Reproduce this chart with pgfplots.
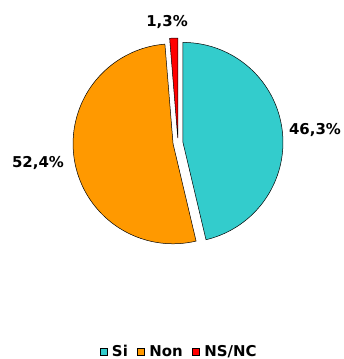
\documentclass[border=0pt]{standalone}
\usepackage{fontspec}
\setmainfont{DejaVu Sans}
\usepackage{pgfplots}
\pgfplotsset{compat=1.18}
\definecolor{cSi}{RGB}{51,204,204}
\definecolor{cNon}{RGB}{255,153,0}
\definecolor{cNS}{RGB}{255,0,0}
\begin{document}
\begin{tikzpicture}
\useasboundingbox (0,0) rectangle (344bp,359bp);
% data (percent)
\def\pSi{46.3}\def\pNon{52.4}\def\pNS{1.3}
\pgfmathsetmacro\aA{90}
\pgfmathsetmacro\aB{90-3.6*\pSi}
\pgfmathsetmacro\aC{\aB-3.6*\pNon}
\pgfmathsetmacro\aD{\aC-3.6*\pNS}
\def\cx{178}\def\cy{216}\def\R{100}\def\ex{5}
\pgfmathsetmacro\oxA{\cx+\ex*cos((\aA+\aB)/2)}\pgfmathsetmacro\oyA{\cy+\ex*sin((\aA+\aB)/2)}
\pgfmathsetmacro\oxB{\cx+\ex*cos((\aB+\aC)/2)}\pgfmathsetmacro\oyB{\cy+\ex*sin((\aB+\aC)/2)}
\pgfmathsetmacro\oxC{\cx+\ex*cos((\aC+\aD)/2)}\pgfmathsetmacro\oyC{\cy+\ex*sin((\aC+\aD)/2)}
\begin{axis}[at={(0,0)}, anchor=origin, x=1bp, y=1bp,
  xmin=0, xmax=344, ymin=0, ymax=359, hide axis, clip=false,
  legend columns=3,
  legend style={draw=none, fill=none, at={(179/344,7/359)}, anchor=center,
    font=\fontsize{15}{18}\selectfont\bfseries,
    /tikz/every odd column/.append style={column sep=3bp},
    /tikz/every even column/.append style={column sep=8bp},
    inner sep=0pt, nodes={inner sep=1.5bp}},
  legend image code/.code={\draw[#1, draw=black, line width=0.5pt] (0bp,-3.5bp) rectangle (7bp,3.5bp);},
]
\addplot[fill=cSi, draw=black, line width=0.5pt, domain=\aB:\aA, samples=100, variable=\t]
  ({\oxA+\R*cos(t)},{\oyA+\R*sin(t)}) -- (axis cs:\oxA,\oyA) -- cycle;
\addlegendentry{Si}
\addplot[fill=cNon, draw=black, line width=0.5pt, domain=\aC:\aB, samples=100, variable=\t]
  ({\oxB+\R*cos(t)},{\oyB+\R*sin(t)}) -- (axis cs:\oxB,\oyB) -- cycle;
\addlegendentry{Non}
\addplot[fill=cNS, draw=black, line width=0.5pt, domain=\aD:\aC, samples=10, variable=\t]
  ({\oxC+\R*cos(t)},{\oyC+\R*sin(t)}) -- (axis cs:\oxC,\oyC) -- cycle;
\addlegendentry{NS/NC}
\node[font=\fontsize{15}{18}\selectfont\bfseries] at (axis cs:315,229) {46,3\%};
\node[font=\fontsize{15}{18}\selectfont\bfseries] at (axis cs:38,196) {52,4\%};
\node[font=\fontsize{15}{18}\selectfont\bfseries] at (axis cs:167,337) {1,3\%};
\end{axis}
\end{tikzpicture}
\end{document}
